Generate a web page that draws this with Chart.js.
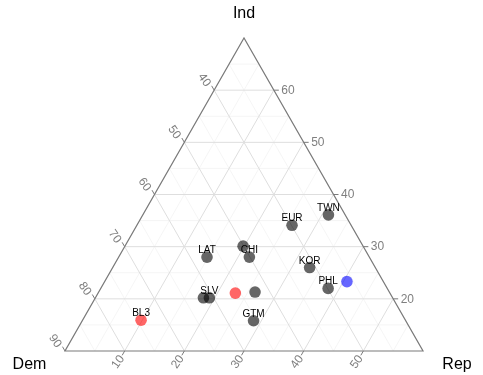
<!DOCTYPE html>
<html>
<head>
<meta charset="utf-8">
<script src="https://cdn.jsdelivr.net/npm/chart.js@4"></script>
<style>
  html, body { margin: 0; padding: 0; background: #fff; }
  #wrap { width: 483px; height: 375px; position: relative; }
</style>
</head>
<body>
<div id="wrap"><canvas id="tern"></canvas></div>
<script>
// ternary composition of each point (Dem + Rep + Ind = 100)
const labels = ['TWN', 'EUR', '', 'CHI', 'LAT', 'KOR', 'PHL', '', '', 'SLV', '', '', 'GTM', 'BL3'];
const demVals = [32.8, 39.9, 50.1, 50.1, 57.2, 41.0, 39.9, 36.1, 61.7, 60.7, 55.9, 52.5, 55.5, 74.3];
const repVals = [31.1, 26.0, 19.8, 21.9, 14.8, 33.0, 38.1, 40.6, 18.1, 19.1, 23.0, 26.2, 28.7, 9.8];
const indVals = [36.1, 34.1, 30.1, 28.0, 28.0, 26.0, 22.0, 23.3, 20.2, 20.2, 21.1, 21.3, 15.8, 15.9];
const groups  = ['g', 'g', 'g', 'g', 'g', 'g', 'g', 'b', 'g', 'g', 'r', 'g', 'g', 'r'];

// axis ticks (Dem on the left edge, Rep on the bottom, Ind on the right)
const demTicks = [40, 50, 60, 70, 80, 90];
const repTicks = [10, 20, 30, 40, 50];
const indTicks = [20, 30, 40, 50, 60];
const demMinor = [35, 45, 55, 65, 75, 85];
const repMinor = [5, 15, 25, 35, 45, 55];
const indMinor = [15, 25, 35, 45, 55, 65];

// zoomed limits: Ind 10-70, Rep 0-60, Dem 30-90
const IND_MIN = 10, REP_MIN = 0, DEM_MIN = 30, SPAN = 60;
const H = Math.sqrt(3) / 2;

function toXY(rep, ind) {
  const a = ind - IND_MIN;
  return { x: (rep - REP_MIN) + a / 2, y: a * H };
}

const colors = { g: 'rgba(0,0,0,0.6)', r: 'rgba(255,0,0,0.6)', b: 'rgba(0,0,255,0.6)' };
const points = repVals.map((r, i) => toXY(r, indVals[i]));

const ternPlugin = {
  id: 'tern',
  beforeDatasetsDraw(chart) {
    const { ctx, scales: { x, y } } = chart;
    const P = (rep, ind) => {
      const p = toXY(rep, ind);
      return [x.getPixelForValue(p.x), y.getPixelForValue(p.y)];
    };
    const seg = (a, b) => { ctx.beginPath(); ctx.moveTo(a[0], a[1]); ctx.lineTo(b[0], b[1]); ctx.stroke(); };
    ctx.save();
    // minor then major grid
    [[demMinor, repMinor, indMinor, '#f2f2f2', 0.8], [demTicks, repTicks, indTicks, '#dedede', 1]].forEach(([dv, rv, iv, col, w]) => {
      ctx.strokeStyle = col; ctx.lineWidth = w;
      iv.forEach(v => seg(P(0, v), P(100 - DEM_MIN - v, v)));
      rv.forEach(v => seg(P(v, IND_MIN), P(v, 100 - DEM_MIN - v)));
      dv.forEach(v => seg(P(100 - v - IND_MIN, IND_MIN), P(0, 100 - v)));
    });
    ctx.restore();
  },
  afterDatasetsDraw(chart) {
    const { ctx, scales: { x, y } } = chart;
    const P = (rep, ind) => {
      const p = toXY(rep, ind);
      return [x.getPixelForValue(p.x), y.getPixelForValue(p.y)];
    };
    ctx.save();
    // outline
    const bl = P(0, IND_MIN), br = P(SPAN, IND_MIN), top = P(0, IND_MIN + SPAN);
    ctx.strokeStyle = '#7a7a7a'; ctx.lineWidth = 1.2;
    ctx.beginPath();
    ctx.moveTo(bl[0], bl[1]); ctx.lineTo(br[0], br[1]); ctx.lineTo(top[0], top[1]); ctx.closePath();
    ctx.stroke();

    const tl = 5;
    ctx.lineWidth = 1;
    ctx.fillStyle = '#7f7f7f';
    ctx.font = '12px "Liberation Sans", Arial, sans-serif';
    ctx.textAlign = 'center'; ctx.textBaseline = 'middle';
    // left axis (Dem)
    demTicks.forEach(v => {
      const p = P(0, 100 - v);
      ctx.beginPath(); ctx.moveTo(p[0], p[1]); ctx.lineTo(p[0] - tl * 0.5, p[1] - tl * H); ctx.stroke();
      ctx.save(); ctx.translate(p[0] - 10, p[1] - 10); ctx.rotate(55 * Math.PI / 180);
      ctx.fillText(String(v), 0, 0); ctx.restore();
    });
    // bottom axis (Rep)
    repTicks.forEach(v => {
      const p = P(v, IND_MIN);
      ctx.beginPath(); ctx.moveTo(p[0], p[1]); ctx.lineTo(p[0] - tl * 0.5, p[1] + tl * H); ctx.stroke();
      ctx.save(); ctx.translate(p[0] - 6.5, p[1] + 11); ctx.rotate(-55 * Math.PI / 180);
      ctx.fillText(String(v), 0, 0); ctx.restore();
    });
    // right axis (Ind)
    ctx.textAlign = 'left';
    indTicks.forEach(v => {
      const p = P(100 - DEM_MIN - v, v);
      ctx.beginPath(); ctx.moveTo(p[0], p[1]); ctx.lineTo(p[0] + tl, p[1]); ctx.stroke();
      ctx.fillText(String(v), p[0] + 7.5, p[1] + 0.5);
    });

    // axis titles
    ctx.fillStyle = '#000';
    ctx.font = '16px "Liberation Sans", Arial, sans-serif';
    ctx.textAlign = 'center';
    ctx.fillText('Ind', top[0], 14);
    ctx.fillText('Dem', 29.5, 365);
    ctx.fillText('Rep', 457, 365);

    // point labels
    ctx.font = '10px "Liberation Sans", Arial, sans-serif';
    ctx.textBaseline = 'alphabetic';
    labels.forEach((t, i) => {
      if (!t) return;
      const px = x.getPixelForValue(points[i].x), py = y.getPixelForValue(points[i].y);
      ctx.fillText(t, px, py - 4);
    });
    ctx.restore();
  }
};

new Chart(document.getElementById('tern'), {
  type: 'scatter',
  data: {
    datasets: [{
      data: points,
      backgroundColor: groups.map(g => colors[g]),
      borderWidth: 0,
      pointRadius: 5.8,
      pointHoverRadius: 5.8,
    }],
  },
  options: {
    responsive: true,
    maintainAspectRatio: false,
    animation: false,
    layout: { padding: { left: 65, right: 60, top: 38, bottom: 24 } },
    plugins: { legend: { display: false }, tooltip: { enabled: false } },
    scales: {
      x: { type: 'linear', display: false, min: 0, max: SPAN },
      y: { type: 'linear', display: false, min: 0, max: SPAN * H },
    },
  },
  plugins: [ternPlugin],
});
</script>
</body>
</html>
